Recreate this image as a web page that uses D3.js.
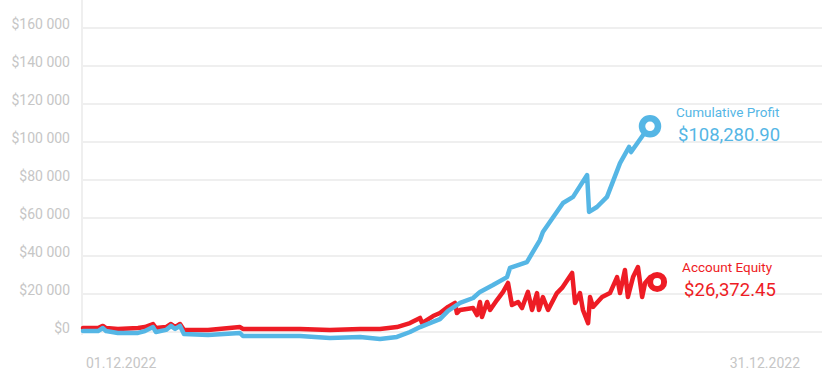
<!DOCTYPE html>
<html>
<head>
<meta charset="utf-8">
<script src="https://cdn.jsdelivr.net/npm/d3@7"></script>
<style>
  body { margin: 0; background: #fff; }
  svg { display: block; font-family: Roboto, sans-serif; }
</style>
</head>
<body>
<svg id="chart" width="840" height="383"></svg>
<script>
// Day of December (fractional) and values in $
const profitDays = [1.00, 1.61, 1.81, 1.94, 2.42, 3.24, 3.52, 3.85, 3.97, 4.38, 4.58, 4.75, 4.95, 5.11, 6.09,
  7.39, 7.51, 9.83, 11.05, 12.28, 13.09, 13.78, 14.31, 14.72, 15.25, 15.53, 15.86, 16.35, 16.88, 17.16,
  17.69, 18.26, 18.38, 19.07, 19.60, 19.72, 20.54, 20.95, 21.52, 21.60, 21.92, 22.33, 22.86, 23.23,
  23.31, 23.80, 24.08];
const profitValues = [500, 500, 2100, 500, -500, -500, 500, 2600, 0, 1100, 3200, 1600, 3200, -1100, -1600,
  -500, -2100, -2100, -3200, -2600, -3700, -2600, 0, 2600, 5300, 6800, 11100, 15300, 17900, 21100,
  24700, 28900, 33700, 36800, 48400, 52600, 67900, 71100, 82600, 63200, 65800, 71100, 88900, 97400,
  94700, 103700, 108280.90];

const equityDays = [1.00, 1.61, 1.81, 1.94, 2.42, 3.24, 3.52, 3.85, 3.97, 4.38, 4.58, 4.75, 4.95, 5.11, 6.09,
  7.39, 7.51, 9.83, 11.05, 12.28, 13.09, 13.78, 14.31, 14.72, 14.80, 15.25, 15.53, 15.86, 16.14, 16.22,
  16.35, 16.88, 17.04, 17.16, 17.24, 17.45, 17.57, 17.85, 18.10, 18.30, 18.46, 18.71, 18.87, 19.11,
  19.28, 19.48, 19.56, 19.72, 19.93, 20.29, 20.50, 20.91, 21.03, 21.23, 21.35, 21.56, 21.64, 21.76,
  22.13, 22.45, 22.74, 22.86, 23.06, 23.18, 23.39, 23.59, 23.76, 23.88, 24.08, 24.37];
const equityValues = [2100, 2100, 3200, 2100, 1600, 2100, 2600, 4200, 2100, 2600, 4200, 2600, 4200, 1100, 1100,
  2600, 1600, 1600, 1100, 1600, 1600, 2600, 4700, 7400, 4700, 8400, 10000, 13200, 15300, 10000,
  11600, 12600, 8900, 15800, 7900, 15800, 11600, 16800, 21100, 25800, 14200, 15800, 12600, 21100,
  11600, 20500, 11600, 18400, 11600, 20500, 23200, 31100, 15300, 20500, 11600, 4700, 18400, 13200,
  18400, 20500, 28900, 20500, 32600, 18400, 28900, 34200, 18400, 25800, 28900, 26372.45];

const yTicks = [0, 20000, 40000, 60000, 80000, 100000, 120000, 140000, 160000];
const dateLabels = ["01.12.2022", "31.12.2022"];
const profitLabel = "Cumulative Profit";
const equityLabel = "Account Equity";

const blue = "#55b6e5";
const red = "#ee1c25";

const svg = d3.select("#chart");

const x = d3.scaleLinear().domain([1, 31]).range([83, 820]);
const y = d3.scaleLinear().domain([0, 160000]).range([332, 28]);

const fmtTick = v => "$" + d3.format(",")(v).replace(/,/g, " ");
const fmtMoney = v => "$" + d3.format(",.2f")(v);

// grid lines
svg.append("g")
  .selectAll("line")
  .data(yTicks)
  .join("line")
  .attr("x1", 82).attr("x2", 822)
  .attr("y1", d => y(d)).attr("y2", d => y(d))
  .attr("stroke", "#efefef")
  .attr("stroke-width", 2);

// left axis line
svg.append("line")
  .attr("x1", 82).attr("x2", 82)
  .attr("y1", 0).attr("y2", 335)
  .attr("stroke", "#efefef")
  .attr("stroke-width", 2);

// y tick labels
svg.append("g")
  .selectAll("text")
  .data(yTicks)
  .join("text")
  .attr("x", 70)
  .attr("y", d => y(d) + 1)
  .attr("text-anchor", "end")
  .attr("fill", "#c6c6c6")
  .attr("font-size", 14)
  .text(fmtTick);

// date labels
svg.append("text")
  .attr("x", x(1) + 3).attr("y", 368)
  .attr("fill", "#c6c6c6").attr("font-size", 14)
  .text(dateLabels[0]);
svg.append("text")
  .attr("x", x(31) - 20).attr("y", 368)
  .attr("text-anchor", "end")
  .attr("fill", "#c6c6c6").attr("font-size", 14)
  .text(dateLabels[1]);

const line = d3.line()
  .x(d => x(d[0]))
  .y(d => y(d[1]));

const equity = equityDays.map((d, i) => [d, equityValues[i]]);
const profit = profitDays.map((d, i) => [d, profitValues[i]]);

svg.append("path")
  .datum(equity)
  .attr("d", line)
  .attr("fill", "none")
  .attr("stroke", red)
  .attr("stroke-width", 4.5)
  .attr("stroke-linejoin", "round")
  .attr("stroke-linecap", "round");

svg.append("path")
  .datum(profit)
  .attr("d", line)
  .attr("fill", "none")
  .attr("stroke", blue)
  .attr("stroke-width", 4.5)
  .attr("stroke-linejoin", "round")
  .attr("stroke-linecap", "round");

// end markers and labels
const ends = [
  { pt: profit[profit.length - 1], color: blue, name: profitLabel, r: 8, sw: 6.5, dx: 26, dy: -9, vy: 15 },
  { pt: equity[equity.length - 1], color: red, name: equityLabel, r: 7, sw: 6, dx: 25, dy: -10, vy: 14 }
];

ends.forEach(e => {
  const cx = x(e.pt[0]), cy = y(e.pt[1]);
  svg.append("circle")
    .attr("cx", cx).attr("cy", cy).attr("r", e.r)
    .attr("fill", "#fff")
    .attr("stroke", e.color)
    .attr("stroke-width", e.sw);
  svg.append("text")
    .attr("x", cx + e.dx).attr("y", cy + e.dy)
    .attr("fill", e.color)
    .attr("font-size", 13.5)
    .text(e.name);
  svg.append("text")
    .attr("x", cx + e.dx + 2).attr("y", cy + e.vy)
    .attr("fill", e.color)
    .attr("font-size", 18.5)
    .text(fmtMoney(e.pt[1]));
});
</script>
</body>
</html>
